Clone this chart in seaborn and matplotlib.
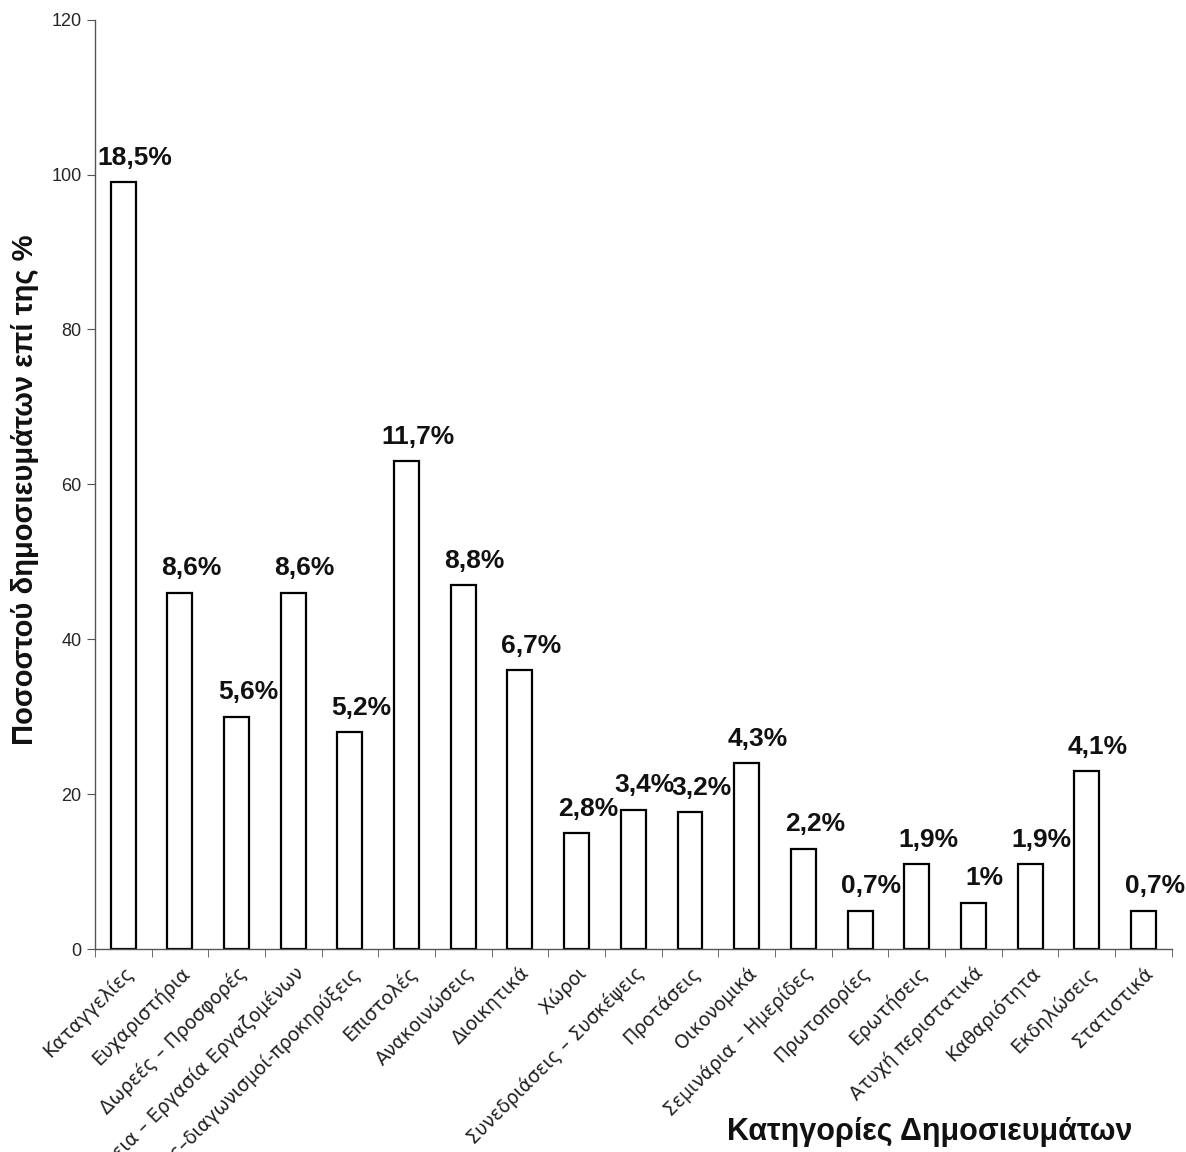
import numpy as np
import pandas as pd
import matplotlib
matplotlib.use("Agg")
import matplotlib.pyplot as plt
import seaborn as sns

# Data
categories = ["Καταγγελίες", "Ευχαριστήρια", "Δωρεές – Προσφορές",
              "Ασφάλεια – Εργασία Εργαζομένων", "Προσλήψεις–διαγωνισμοί-προκηρύξεις",
              "Επιστολές", "Ανακοινώσεις", "Διοικητικά", "Χώροι",
              "Συνεδριάσεις – Συσκέψεις", "Προτάσεις", "Οικονομικά",
              "Σεμινάρια – Ημερίδες", "Πρωτοπορίες", "Ερωτήσεις",
              "Ατυχή περιστατικά", "Καθαριότητα", "Εκδηλώσεις", "Στατιστικά"]
counts = [99, 46, 30, 46, 28, 63, 47, 36, 15, 18, 17.7, 24, 13, 5, 11, 6, 11, 23, 5]
pct_labels = ["18,5%", "8,6%", "5,6%", "8,6%", "5,2%", "11,7%", "8,8%", "6,7%",
              "2,8%", "3,4%", "3,2%", "4,3%", "2,2%", "0,7%", "1,9%", "1%",
              "1,9%", "4,1%", "0,7%"]

df = pd.DataFrame({"cat": categories, "n": counts})

sns.set_style("white")
plt.rcParams['font.family'] = ['Liberation Sans', 'DejaVu Sans']

fig = plt.figure(figsize=(11.86, 11.52), dpi=100)
ax = fig.add_axes([0.080, 0.176, 0.908, 0.807])

sns.barplot(data=df, x="cat", y="n", color="white", edgecolor="black",
            linewidth=1.6, width=0.44, ax=ax)

# percentage labels above bars
for i, (v, lab) in enumerate(zip(counts, pct_labels)):
    ax.text(i + 0.2, v + 1.6, lab, ha="center", va="bottom", fontsize=19,
            fontweight="bold", color="#111")

ax.set_ylim(0, 120)
ax.set_xlim(-0.5, len(categories) - 0.5)
ax.set_yticks(range(0, 121, 20))
ax.tick_params(axis="y", labelsize=13, length=6, direction="out", left=True, color="#555")

# tick marks between categories, labels at centers
ax.set_xticks(np.arange(len(categories)))
ax.set_xticklabels(categories, rotation=45, ha="right", rotation_mode="anchor",
                   fontsize=13.5, family=['DejaVu Sans'], color="#222")
ax.tick_params(axis="x", which="major", length=0, pad=10)
ax.set_xticks(np.arange(-0.5, len(categories), 1), minor=True)
ax.tick_params(axis="x", which="minor", length=6, bottom=True, color="#555")

for s in ["top", "right"]:
    ax.spines[s].set_visible(False)
for s in ["left", "bottom"]:
    ax.spines[s].set_color("#555")
    ax.spines[s].set_linewidth(1.0)

ax.set_xlabel("")
ax.set_ylabel("")
fig.text(0.021, 0.575, "Ποσοστού δημοσιευμάτων επί της %", rotation=90,
         ha="center", va="center", fontsize=21, fontweight="bold", color="#111")
fig.text(0.784, 0.004, "Κατηγορίες Δημοσιευμάτων", ha="center", va="bottom",
         fontsize=22, fontweight="bold", color="#111")

fig.savefig("out.png", dpi=100)
